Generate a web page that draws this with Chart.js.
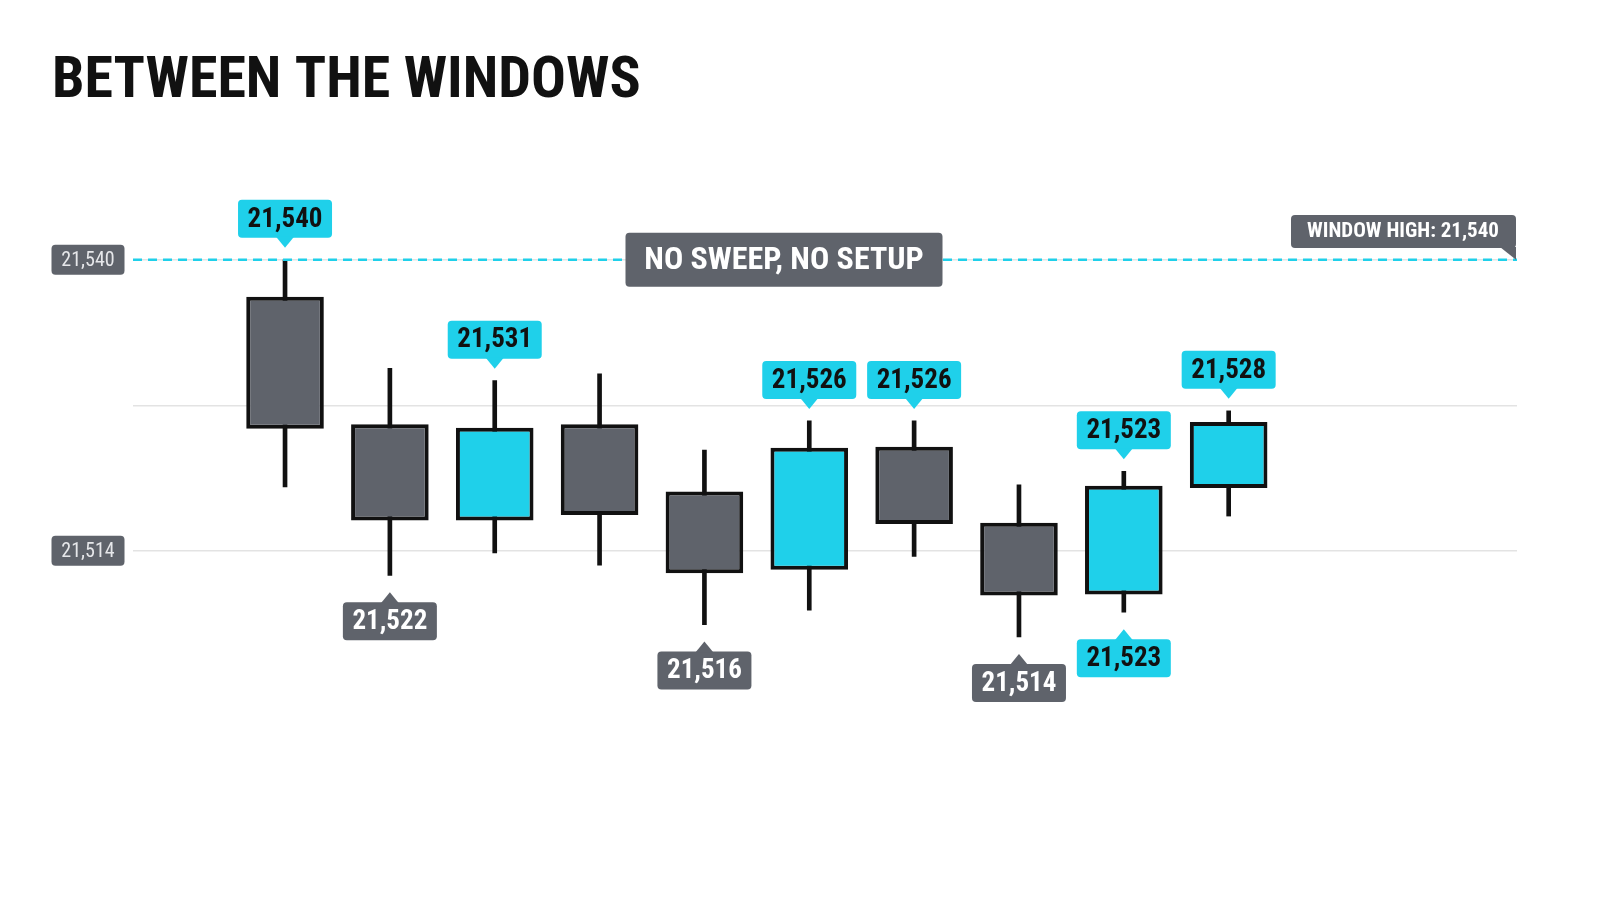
<!DOCTYPE html>
<html><head><meta charset="utf-8">
<script src="https://cdn.jsdelivr.net/npm/chart.js@4/dist/chart.umd.min.js"></script>
<style>html,body{margin:0;padding:0;background:#fff;overflow:hidden}#wrap{width:1600px;height:914px}canvas{display:block}</style>
</head><body><div id="wrap"><canvas id="c" width="1600" height="914" style="width:1600px;height:914px"></canvas></div>
<script>
const candleX = [0,1,2,3,4,5,6,7,8,9];
const opens  = [21536.7,21525.3,21516.7,21525.3,21519.3,21512.3,21523.3,21516.5,21510.1,21519.6];
const closes = [21524.9,21516.7,21525.0,21517.2,21512.0,21523.2,21516.4,21510.0,21519.8,21525.5];
const highs  = [21540.0,21530.3,21529.2,21529.8,21523.0,21525.6,21525.6,21519.9,21521.1,21526.5];
const lows   = [21519.7,21511.8,21513.8,21512.7,21507.4,21508.7,21513.5,21506.3,21508.5,21517.1];
const topLabels = ['21,540',null,'21,531',null,null,'21,526','21,526',null,'21,523','21,528'];
const bottomLabels = [null,'21,522',null,null,'21,516',null,null,'21,514','21,523',null];
const bottomCyan = [false,false,false,false,false,false,false,false,true,false];
const yTicks = [21514,21527,21540];
const yTickLabels = ['21,514',null,'21,540'];
const windowHigh = 21540;
const titleText = 'BETWEEN THE WINDOWS';
const calloutText = 'NO SWEEP, NO SETUP';
const windowLabel = 'WINDOW HIGH: 21,540';

const CYAN='#1fd0ea', GRAY='#5f636b';
const bull = opens.map((o,i)=>closes[i]>o);
const COND = "'Liberation Sans Narrow','Roboto Condensed',Roboto,sans-serif";

function rr(ctx,x,y,w,h,r){ctx.beginPath();ctx.roundRect(x,y,w,h,4);}
function box(ctx,cx,cy,w,h,fill,text,color,font,tip){
  ctx.fillStyle=fill; rr(ctx,cx-w/2,cy-h/2,w,h,4); ctx.fill();
  if(tip){ctx.beginPath();
    if(tip==='down'){ctx.moveTo(cx-9,cy+h/2-1);ctx.lineTo(cx,cy+h/2+10);ctx.lineTo(cx+9,cy+h/2-1);}
    else {ctx.moveTo(cx-9,cy-h/2+1);ctx.lineTo(cx,cy-h/2-10);ctx.lineTo(cx+9,cy-h/2+1);}
    ctx.fill();}
  ctx.fillStyle=color;ctx.font=font;ctx.textAlign='center';ctx.textBaseline='middle';
  ctx.fillText(text,cx,cy+1);
}

const deco={id:'deco',
  afterDraw(chart){
    const ctx=chart.ctx,x=chart.scales.x,y=chart.scales.y,a=chart.chartArea;
    ctx.save();
    ctx.fillStyle='#111';ctx.font="bold 58px "+COND;ctx.textAlign='left';ctx.textBaseline='alphabetic';
    ctx.fillText(titleText,52,97);
    const yh=y.getPixelForValue(windowHigh);
    ctx.strokeStyle=CYAN;ctx.lineWidth=2.5;ctx.setLineDash([9,6]);
    ctx.beginPath();ctx.moveTo(a.left,yh);ctx.lineTo(a.right,yh);ctx.stroke();ctx.setLineDash([]);
    yTicks.forEach((t,i)=>{ if(yTickLabels[i]) box(ctx,88,y.getPixelForValue(t),73,30,GRAY,yTickLabels[i],'#e6e7ea',"20px "+COND);});
    box(ctx,784,yh,317,54,GRAY,calloutText,'#fff',"bold 32px "+COND);
    ctx.fillStyle=GRAY;rr(ctx,1291,215,225,33,4);ctx.fill();
    ctx.beginPath();ctx.moveTo(1500,247);ctx.lineTo(1516,yh);ctx.lineTo(1516,247);ctx.fill();
    ctx.fillStyle='#fff';ctx.font="bold 21px "+COND;ctx.textAlign='center';ctx.textBaseline='middle';
    ctx.fillText(windowLabel,1403,232);
    candleX.forEach((cx,i)=>{
      const px=x.getPixelForValue(cx);
      if(topLabels[i]) box(ctx,px,y.getPixelForValue(highs[i])-41,94,38,CYAN,topLabels[i],'#111',"bold 27px "+COND,'down');
      if(bottomLabels[i]) box(ctx,px,y.getPixelForValue(lows[i])+46,94,38,bottomCyan[i]?CYAN:GRAY,bottomLabels[i],bottomCyan[i]?'#111':'#fff',"bold 27px "+COND,'up');
    });
    ctx.restore();
  }};

new Chart(document.getElementById('c'),{
  type:'bar',
  data:{labels:candleX,datasets:[
    {data:candleX.map((c,i)=>({x:c,y:[lows[i],highs[i]]})),backgroundColor:'#111',barThickness:4,grouped:false,order:2},
    {data:candleX.map((c,i)=>({x:c,y:[opens[i],closes[i]]})),backgroundColor:bull.map(b=>b?CYAN:GRAY),
     borderColor:'#111',borderWidth:4,borderSkipped:false,barPercentage:0.74,categoryPercentage:1,grouped:false,order:1}
  ]},
  options:{responsive:false,animation:false,devicePixelRatio:1,
    layout:{padding:{left:133,right:83,top:130,bottom:154}},
    plugins:{legend:{display:false},tooltip:{enabled:false}},
    scales:{
      x:{type:'linear',offset:false,min:-1.45,max:11.75,display:false},
      y:{min:21495.3,max:21551.6,afterFit(s){s.width=0;},afterBuildTicks(s){s.ticks=yTicks.map(v=>({value:v}));},
         ticks:{display:false},border:{display:false},grid:{color:'#e3e3e3',lineWidth:1.5,drawTicks:false}}
    }},
  plugins:[deco]
});
</script></body></html>
